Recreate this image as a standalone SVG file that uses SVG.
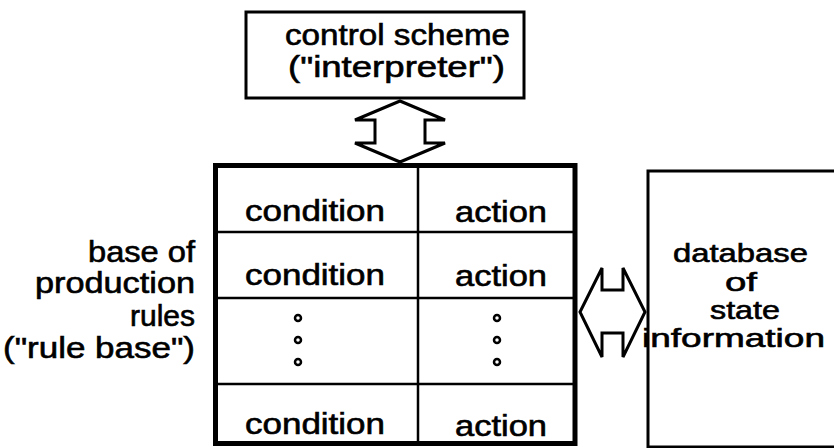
<svg xmlns="http://www.w3.org/2000/svg" width="834" height="448" viewBox="0 0 834 448">
<style>
.box{fill:#fff;stroke:#000;stroke-width:3}
.thick{fill:#fff;stroke:#000;stroke-width:5}
.thin{stroke:#000;stroke-width:2.5;fill:none}
.arrow{fill:#fff;stroke:#000;stroke-width:3;stroke-linejoin:miter}
text{font-family:"Liberation Sans",Arial,Helvetica,sans-serif;font-size:29px;fill:#000;stroke:#000;stroke-width:0.6}
.db{font-size:26px}
.dot{fill:#fff;stroke:#000;stroke-width:2.5}
</style>
<rect width="834" height="448" fill="#fff"/>
<g id="interpreter">
<rect class="box" x="246" y="12" width="278" height="86"/>
<text x="285" y="45" textLength="225" lengthAdjust="spacingAndGlyphs">control scheme</text>
<text x="288" y="77" textLength="217" lengthAdjust="spacingAndGlyphs">("interpreter")</text>
</g>
<g id="rulebase">
<rect class="thick" x="215.5" y="165.5" width="359.5" height="278"/>
<line class="thin" x1="418" y1="165" x2="418" y2="443"/>
<line class="thin" x1="216" y1="232" x2="574" y2="232"/>
<line class="thin" x1="216" y1="298" x2="574" y2="298"/>
<line class="thin" x1="216" y1="384" x2="574" y2="384"/>
<text x="245" y="221" textLength="140" lengthAdjust="spacingAndGlyphs">condition</text>
<text x="455" y="222" textLength="92" lengthAdjust="spacingAndGlyphs">action</text>
<text x="245" y="285" textLength="140" lengthAdjust="spacingAndGlyphs">condition</text>
<text x="455" y="286" textLength="92" lengthAdjust="spacingAndGlyphs">action</text>
<circle class="dot" cx="298" cy="318" r="3"/>
<circle class="dot" cx="298" cy="340" r="3"/>
<circle class="dot" cx="298" cy="362" r="3"/>
<circle class="dot" cx="497" cy="318" r="3"/>
<circle class="dot" cx="497" cy="340" r="3"/>
<circle class="dot" cx="497" cy="362" r="3"/>
<text x="245" y="434" textLength="140" lengthAdjust="spacingAndGlyphs">condition</text>
<text x="455" y="436" textLength="92" lengthAdjust="spacingAndGlyphs">action</text>
</g>
<g id="rulebase-label">
<text x="88" y="262" textLength="107" lengthAdjust="spacingAndGlyphs">base of</text>
<text x="35" y="293" textLength="160" lengthAdjust="spacingAndGlyphs">production</text>
<text x="130" y="326" textLength="65" lengthAdjust="spacingAndGlyphs">rules</text>
<text x="3" y="358" textLength="192" lengthAdjust="spacingAndGlyphs">("rule base")</text>
</g>
<g id="database">
<rect class="box" x="648" y="171" width="190" height="276"/>
<text class="db" x="673" y="262" textLength="135" lengthAdjust="spacingAndGlyphs">database</text>
<text class="db" x="725" y="291" textLength="32" lengthAdjust="spacingAndGlyphs">of</text>
<text class="db" x="710" y="319" textLength="70" lengthAdjust="spacingAndGlyphs">state</text>
<text class="db" x="642" y="347" textLength="183" lengthAdjust="spacingAndGlyphs">information</text>
</g>
<g id="connectors">
<polygon class="arrow" points="400,101 355,120 375,120 375,143 355,143 400,162 445,143 425,143 425,120 445,120"/>
<polygon class="arrow" points="580,312 602,268 602,290 623,290 623,268 645,312 623,357 623,333 602,333 602,357"/>
</g>
</svg>
